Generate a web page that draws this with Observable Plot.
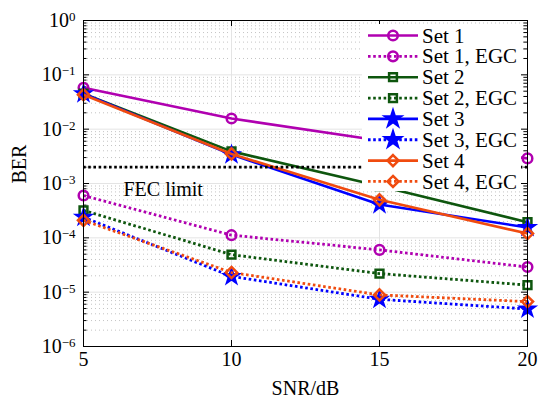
<!DOCTYPE html>
<html><head><meta charset="utf-8">
<script src="https://cdn.jsdelivr.net/npm/d3@7"></script>
<script src="https://cdn.jsdelivr.net/npm/@observablehq/plot@0.6"></script>
<style>body{margin:0;background:#fff}</style>
</head><body><div id="chart"></div>
<script>
// ---- data ----
const snr = [5, 10, 15, 20];
const set1 = [0.058, 0.0157, 0.0062, 0.0029];
const set1EGC = [6.0e-4, 1.12e-4, 6.0e-5, 2.9e-5];
const set2 = [0.045, 0.0039, 9.0e-4, 1.94e-4];
const set2EGC = [3.2e-4, 4.9e-5, 2.2e-5, 1.35e-5];
const set3 = [0.045, 0.0034, 4.1e-4, 1.55e-4];
const set3EGC = [2.4e-4, 1.95e-5, 7.4e-6, 4.9e-6];
const set4 = [0.043, 0.0035, 5.0e-4, 1.2e-4];
const set4EGC = [2.1e-4, 2.3e-5, 8.9e-6, 6.7e-6];
const seriesNames = ["Set 1", "Set 1, EGC", "Set 2", "Set 2, EGC", "Set 3", "Set 3, EGC", "Set 4", "Set 4, EGC"];
const seriesValues = [set1, set1EGC, set2, set2EGC, set3, set3EGC, set4, set4EGC];
const fecLimit = [2e-3];
const fecLabel = [{label: "FEC limit", snr: 6.35, ber: 7.7e-4}];
const xTicks = [5, 10, 15, 20];
const decades = [1e-6, 1e-5, 1e-4, 1e-3, 1e-2, 1e-1, 1];
const xLabel = "SNR/dB";
const yLabel = "BER";

// ---- styles ----
const styles = {
  "Set 1":      {color: "#b000b0", symbol: "circle",   r: 4.8, fill: "none", dashed: false},
  "Set 1, EGC": {color: "#b000b0", symbol: "circle",   r: 4.8, fill: "none", dashed: true},
  "Set 2":      {color: "#0e560e", symbol: "square",   r: 4.4, fill: "none", dashed: false},
  "Set 2, EGC": {color: "#0e560e", symbol: "square",   r: 4.4, fill: "none", dashed: true},
  "Set 3":      {color: "#0000ff", symbol: "star",     r: 4.3, fill: "#0000ff", dashed: false},
  "Set 3, EGC": {color: "#0000ff", symbol: "star",     r: 4.3, fill: "#0000ff", dashed: true},
  "Set 4":      {color: "#f04b0f", symbol: "diamond2", r: 5.0, fill: "none", dashed: false},
  "Set 4, EGC": {color: "#f04b0f", symbol: "diamond2", r: 5.0, fill: "none", dashed: true}
};
const d3Symbols = {circle: d3.symbolCircle, square: d3.symbolSquare, star: d3.symbolStar, diamond2: d3.symbolDiamond2};

const rows = seriesNames.flatMap((name, k) => snr.map((x, i) => ({name, snr: x, ber: seriesValues[k][i]})));
const minorY = decades.slice(0, -1).flatMap(d => [2,3,4,5,6,7,8,9].map(m => d * m));

const W = 539, H = 404, mL = 83, mR = 12, mT = 20, mB = 58;
const pw = W - mL - mR, ph = H - mT - mB;
const font = "'Liberation Serif', 'Times New Roman', serif";

const seriesMarks = seriesNames.flatMap(name => {
  const s = styles[name];
  const data = rows.filter(d => d.name === name);
  return [
    Plot.line(data, {x: "snr", y: "ber", stroke: s.color, strokeWidth: s.dashed ? 2.8 : 2.6,
      strokeDasharray: s.dashed ? "2.6 2.6" : null, strokeLinecap: "butt", strokeLinejoin: "round"}),
    Plot.dot(data, {x: "snr", y: "ber", symbol: () => s.symbol, r: s.r, stroke: s.color, fill: s.fill, strokeWidth: 2.5})
  ];
});

const plot = Plot.plot({
  width: W, height: H,
  marginLeft: mL, marginRight: mR, marginTop: mT, marginBottom: mB,
  style: {fontFamily: font, fontSize: "20px", background: "#fff", color: "#000", overflow: "visible"},
  x: {domain: [5, 20]},
  y: {type: "log", domain: [1e-6, 1]},
  symbol: {type: "identity"},
  marks: [
    Plot.ruleY(minorY, {stroke: "#c4c4c4", strokeWidth: 1, strokeDasharray: "1 3"}),
    Plot.ruleY(decades, {stroke: "#e4e4e4", strokeWidth: 1}),
    Plot.ruleX(xTicks, {stroke: "#e4e4e4", strokeWidth: 1}),
    Plot.tickY(decades, {stroke: "#000", insetRight: pw - 6}),
    Plot.tickY(decades, {stroke: "#000", insetLeft: pw - 6}),
    Plot.tickY(minorY, {stroke: "#000", insetRight: pw - 3.5}),
    Plot.tickY(minorY, {stroke: "#000", insetLeft: pw - 3.5}),
    Plot.tickX(xTicks, {stroke: "#000", insetTop: ph - 6}),
    Plot.tickX(xTicks, {stroke: "#000", insetBottom: ph - 6}),
    Plot.axisX(xTicks, {tickSize: 0, tickPadding: 5, label: null, fontSize: 20}),
    Plot.axisY(decades, {tickSize: 0, tickPadding: 8, label: null, fontSize: 20,
      tickFormat: d => "10^" + Math.round(Math.log10(d))}),
    ...seriesMarks,
    Plot.ruleY(fecLimit, {stroke: "#000", strokeWidth: 2.8, strokeDasharray: "2.6 2.6"}),
    Plot.text(fecLabel, {x: "snr", y: "ber", text: "label", textAnchor: "start", fontSize: 20}),
    Plot.text([xLabel], {frameAnchor: "bottom", dy: 48, fontSize: 20}),
    Plot.text([yLabel], {frameAnchor: "left", dx: -64, rotate: -90, fontSize: 20}),
    Plot.frame({stroke: "#000", strokeWidth: 1})
  ]
});

// superscript exponents on the y tick labels
d3.select(plot).selectAll('g[aria-label="y-axis tick label"] text').each(function() {
  const t = d3.select(this);
  const [base, exp] = t.text().split("^");
  t.text(null);
  t.append("tspan").text(base);
  t.append("tspan").attr("dy", "-0.45em").attr("font-size", 13).text(String(exp).replace("-", "\u2212"));
});

// legend (inside the axes, top right)
const lg = d3.select(plot).append("g").attr("font-family", font).attr("font-size", 21).attr("text-anchor", "start");
lg.append("rect").attr("x", 362).attr("y", 24).attr("width", 159).attr("height", 167).attr("fill", "#fff");
seriesNames.forEach((name, i) => {
  const s = styles[name];
  const y = 35.5 + i * 20.85;
  lg.append("line").attr("x1", 368).attr("x2", 418).attr("y1", y).attr("y2", y)
    .attr("stroke", s.color).attr("stroke-width", s.dashed ? 2.8 : 2.6)
    .attr("stroke-dasharray", s.dashed ? "2.6 2.6" : null);
  lg.append("path").attr("transform", `translate(393,${y})`)
    .attr("d", d3.symbol(d3Symbols[s.symbol], Math.PI * s.r * s.r * (s.symbol === "star" ? 1.25 : 1))())
    .attr("stroke", s.color).attr("stroke-width", 2.5).attr("fill", s.fill);
  lg.append("text").attr("x", 422).attr("y", y).attr("dy", "0.34em").attr("text-anchor", "start").text(name);
});

document.getElementById("chart").appendChild(plot);
</script>
</body></html>
